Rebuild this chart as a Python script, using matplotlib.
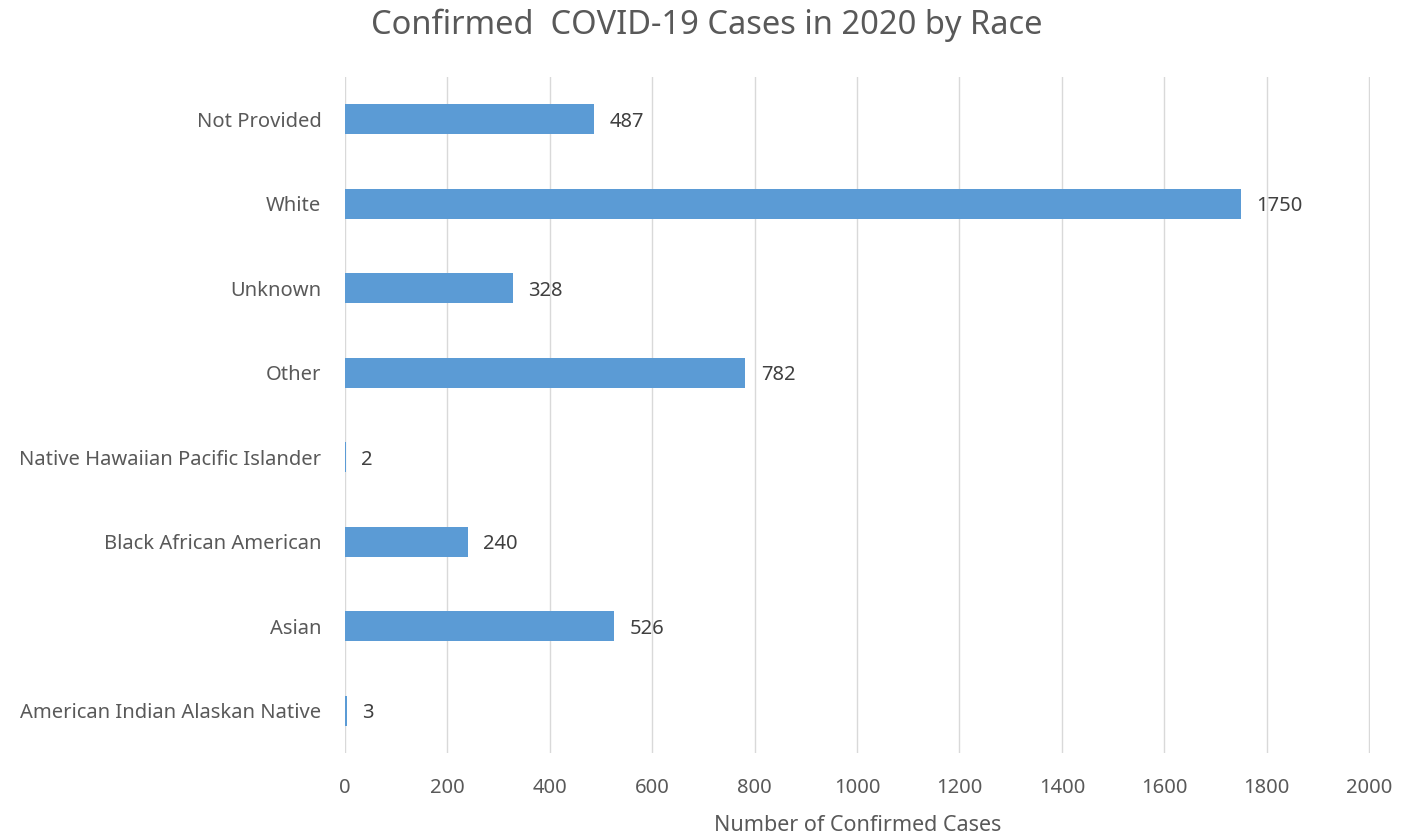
import numpy as np
import matplotlib.pyplot as plt

# data, bottom category first (same order as the chart reads bottom-up)
races = ['American Indian Alaskan Native', 'Asian', 'Black African American',
         'Native Hawaiian Pacific Islander', 'Other', 'Unknown', 'White', 'Not Provided']
cases = [3, 526, 240, 2, 782, 328, 1750, 487]
xticks = [0, 200, 400, 600, 800, 1000, 1200, 1400, 1600, 1800, 2000]

bar_color = '#5B9BD5'
grid_color = '#D9D9D9'
label_color = '#595959'

plt.rcParams['font.family'] = ['Noto Sans', 'DejaVu Sans']

fig = plt.figure(figsize=(14.14, 8.34), dpi=100)
ax = fig.add_axes([0.244, 0.097, 0.725, 0.811])

y = np.arange(len(races))
ax.barh(y, cases, height=0.355, color=bar_color, zorder=3)

for yi, v in zip(y, cases):
    ax.text(v + 30, yi, str(v), va='center_baseline', ha='left', fontsize=14.5, color='#404040')

ax.set_ylim(-0.5, len(races) - 0.5)
ax.set_xlim(0, 2002)
ax.set_yticks(y)
ax.set_yticklabels(races, fontsize=14.5, color=label_color)
ax.set_xticks(xticks)
ax.set_xticklabels([str(t) for t in xticks], fontsize=14.5, color=label_color)
ax.tick_params(axis='both', length=0)
ax.tick_params(axis='y', pad=17)
ax.tick_params(axis='x', pad=18)

ax.xaxis.grid(True, color=grid_color, linewidth=1.0, zorder=0)
for s in ax.spines.values():
    s.set_visible(False)

ax.set_xlabel('Number of Confirmed Cases', fontsize=15.5, color=label_color, labelpad=12)
fig.suptitle('Confirmed  COVID-19 Cases in 2020 by Race', fontsize=23.5, color=label_color, y=0.99)

fig.savefig('out.png', dpi=100)
